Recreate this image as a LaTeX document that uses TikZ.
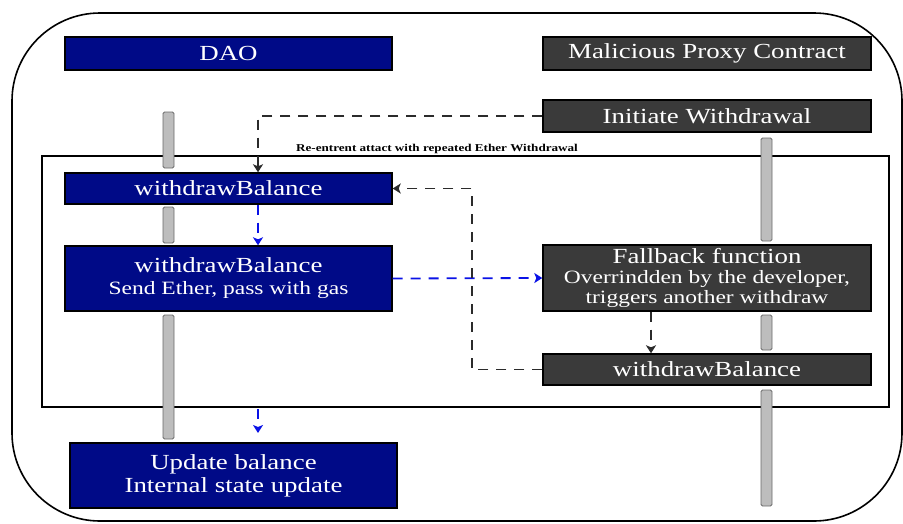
\documentclass[tikz,border=0pt]{standalone}
\usepackage{fontspec}
\setmainfont{Liberation Serif}[FakeStretch=1.25]
\usetikzlibrary{arrows.meta}
\definecolor{daoblue}{HTML}{000A87}
\definecolor{darkbox}{HTML}{3A3A3A}
\definecolor{barfill}{HTML}{BDBDBD}
\definecolor{barline}{HTML}{6A6A6A}
\definecolor{dashblue}{HTML}{0A12E6}
\definecolor{dashblack}{HTML}{2B2B2B}
\begin{document}
\begin{tikzpicture}[x=1pt,y=-1pt,
  titlefont/.style={font=\fontsize{21.5}{23}\selectfont},
  box/.style={draw=black, line width=1.4pt, text=white, inner sep=0pt, align=center,
              minimum width=327pt, titlefont},
  daobox/.style={box, fill=daoblue},
  mbox/.style={box, fill=darkbox},
  lbar/.style={draw=barline, fill=barfill, line width=0.9pt, rounded corners=1.5pt,
               minimum width=11pt, inner sep=0pt},
  dashline/.style={line width=1.8pt, dash pattern=on 10pt off 8pt,
                   -{Stealth[length=8pt,width=10pt,inset=2pt]}},
  blk/.style={dashline, dashblack},
  blu/.style={dashline, dashblue},
  lab/.style={font=\bfseries\fontsize{10.5}{12}\selectfont, inner sep=0pt}
]
\useasboundingbox (0,0) rectangle (903,523);

% outer rounded frame
\draw[line width=1.6pt, rounded corners=88pt] (12,13) rectangle (902,521);

% inner loop frame
\node[draw=black, line width=1.6pt, minimum width=847pt, minimum height=251pt, inner sep=0pt]
  (frame) at (465.5,281.5) {};
\node[lab, anchor=base] (flab) at (437,151) {Re-entrent attact with repeated Ether Withdrawal};

% lifeline bars
\node[lbar, minimum height=56pt]  (b1) at (168.5,140) {};
\node[lbar, minimum height=36pt]  (b2) at (168.5,225) {};
\node[lbar, minimum height=124pt] (b3) at (168.5,377) {};
\node[lbar, minimum height=103pt] (bA) at (766.5,189.5) {};
\node[lbar, minimum height=35pt]  (bB) at (766.5,332.5) {};
\node[lbar, minimum height=116pt] (bC) at (766.5,448) {};

% boxes
\node[daobox, minimum height=33pt] (dao) at (228.5,53.5) {DAO};
\node[mbox, minimum width=328pt, minimum height=33pt] (mal) at (707,53.5) {Malicious Proxy Contract};
\node[mbox, minimum width=328pt, minimum height=32pt] (init) at (707,116) {Initiate Withdrawal};
\node[daobox, minimum height=31pt] (wb1) at (228.5,188.5) {withdrawBalance};
\node[daobox, minimum height=65pt] (wb2) at (228.5,278.5)
  {withdrawBalance\\[-1pt]{\fontsize{18.8}{20}\selectfont Send Ether, pass with gas}};
\node[daobox, minimum height=65pt] (upd) at (233.5,475.5)
  {Update balance\\Internal state update};
\node[mbox, minimum width=328pt, minimum height=66pt] (fb) at (707,278)
  {Fallback function\\[-3pt]{\fontsize{18.8}{20}\selectfont Overrindden by the developer,}\\[-3pt]{\fontsize{18.8}{20}\selectfont triggers another withdraw}};
\node[mbox, minimum width=328pt, minimum height=31pt] (wb3) at (707,369.5) {withdrawBalance};

% helper coordinates
\coordinate (ax) at (258,0);
\coordinate (fx) at (651,0);
\coordinate (lx) at (472,0);
\coordinate (uend) at (258,433);

% connectors
\draw[blk] (init.west) -| (wb1.north -| ax);
\draw[blu] (wb1.south -| ax) -- (wb2.north -| ax);
\draw[blu] (wb2.east) -- (fb.west);
\draw[blk] (fb.south -| fx) -- (wb3.north -| fx);
\draw[blk] (wb3.west) -| (lx |- wb1.east) -- (wb1.east);
\draw[blu] ([yshift=-1pt]frame.south -| ax) -- (uend);
\end{tikzpicture}
\end{document}
